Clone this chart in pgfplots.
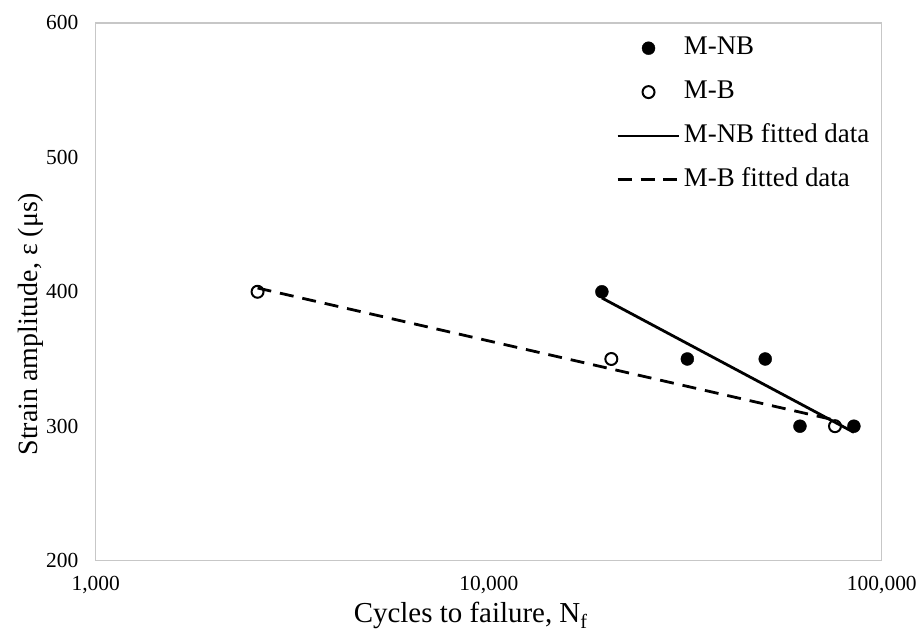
\documentclass[border=0pt]{standalone}
\usepackage{fontspec}
\setmainfont{Liberation Serif}
\usepackage{pgfplots}
\pgfplotsset{compat=1.18}

\begin{document}
\begin{tikzpicture}
\begin{axis}[
    scale only axis,
    width=788pt, height=539pt,
    xmode=log,
    xmin=1000, xmax=100000,
    ymin=200, ymax=600,
    xtick={1000,10000,100000},
    xticklabels={{1,000},{10,000},{100,000}},
    ytick={200,300,400,500,600},
    minor xtick={},
    log ticks with fixed point,
    major tick length=0pt, minor tick length=0pt,
    axis line style={draw=black!22, line width=1.3pt},
    /pgf/number format/assume math mode=true,
    tick label style={font=\fontsize{21.5}{24}\selectfont, black},
    xticklabel style={yshift=-12pt},
    yticklabel style={xshift=-14pt},
    xlabel={Cycles to failure, N\textsubscript{f}},
    ylabel={Strain amplitude, ε (μs)},
    xlabel style={font=\fontsize{29}{33}\selectfont,
        at={(axis description cs:0.477,-0.102)}, anchor=center},
    ylabel style={font=\fontsize{28}{32}\selectfont,
        at={(axis description cs:-0.083,0.44)}, anchor=center},
    legend style={draw=none, fill=none, anchor=north west,
        at={(rel axis cs:0.658,0.984)},
        font=\fontsize{27}{31}\selectfont,
        nodes={text height=19pt, text depth=6pt, inner xsep=3pt},
        row sep=15pt},
    legend cell align=left,
    legend image code/.code={\draw[mark repeat=2, mark phase=2, #1]
        plot coordinates {(0pt,0pt) (31pt,0pt) (62pt,0pt)};},
    clip=false,
]
\coordinate (sw) at (rel axis cs:0,0);

% M-NB
\addplot[only marks, mark=*, mark size=6.5pt, black] coordinates {
    (19400,400) (32000,350) (50500,350) (61900,300) (84900,300)
};
\addlegendentry{M-NB}

% M-B
\addplot[only marks, mark=o, mark size=6pt, black, line width=2pt, mark options={fill=white}] coordinates {
    (2580,400) (20500,350) (76000,300)
};
\addlegendentry{M-B}

% fitted lines
\addplot[black, line width=2.8pt, no marks] coordinates {
    (19400,395.4) (84900,295.4)
};
\addlegendentry{M-NB fitted data}

\addplot[black, line width=2.8pt, no marks, dash pattern=on 14pt off 9pt] coordinates {
    (2580,402.8) (76000,304.5)
};
\addlegendentry{M-B fitted data}
\end{axis}
\path ([shift={(-96pt,-70pt)}]sw) rectangle ++(920pt,632pt);
\end{tikzpicture}
\end{document}
